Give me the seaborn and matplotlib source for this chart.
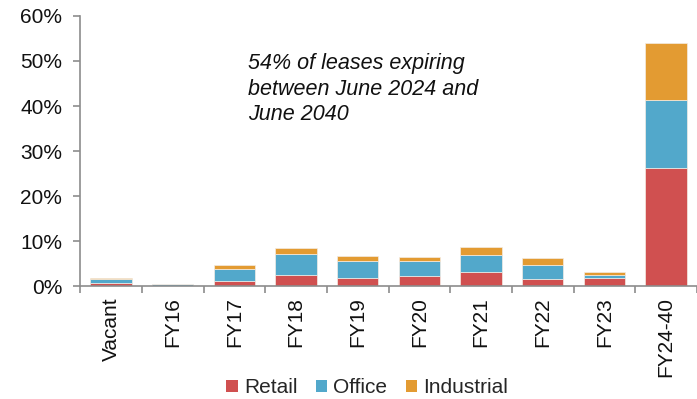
import numpy as np
import pandas as pd
import matplotlib
matplotlib.use("Agg")
import matplotlib.pyplot as plt
import seaborn as sns
from matplotlib.patches import Patch
from matplotlib.ticker import FixedLocator, PercentFormatter

# Lease expiry profile by sector (% of portfolio income)
categories = ["Vacant", "FY16", "FY17", "FY18", "FY19", "FY20", "FY21", "FY22", "FY23", "FY24-40"]
retail = [0.7, 0.05, 1.2, 2.45, 1.85, 2.15, 3.2, 1.5, 1.7, 26.2]
office = [0.9, 0.35, 2.65, 4.75, 3.75, 3.45, 3.75, 3.1, 0.7, 15.1]
industrial = [0.2, 0.0, 0.9, 1.15, 1.1, 0.85, 1.8, 1.7, 0.7, 12.7]

series_names = ["Retail", "Office", "Industrial"]
series_colors = ["#D05050", "#52A8CB", "#E39B32"]

sns.set_theme(style="white")
plt.rcParams["font.family"] = ["Liberation Sans", "DejaVu Sans"]

df = pd.DataFrame({"category": categories, "Retail": retail,
                   "Office": office, "Industrial": industrial})

fig = plt.figure(figsize=(6.97, 3.99), dpi=100)
ax = fig.add_axes([0.115, 0.283, 0.885, 0.677])

bottom = np.zeros(len(categories))
for name, color in zip(series_names, series_colors):
    sns.barplot(data=df, x="category", y=name, color=color, bottom=bottom,
                width=0.67, edgecolor="#F4ECE4", linewidth=0.5,
                saturation=1, ax=ax)
    bottom = bottom + df[name].to_numpy()

ax.set_xlim(-0.5, len(categories) - 0.5)
ax.set_ylim(0, 60)
ax.set_xlabel("")
ax.set_ylabel("")
ax.yaxis.set_major_locator(FixedLocator(np.arange(0, 61, 10)))
ax.yaxis.set_major_formatter(PercentFormatter(decimals=0))

for s in ["top", "right"]:
    ax.spines[s].set_visible(False)
for s in ["left", "bottom"]:
    ax.spines[s].set_color("#8C8C8C")
    ax.spines[s].set_linewidth(1.2)

ax.tick_params(axis="y", which="major", left=True, length=5, width=1.2,
               color="#8C8C8C", labelsize=15, labelcolor="#111111", pad=8)
ax.set_xticks(range(len(categories)))
ax.set_xticklabels(categories, rotation=90, fontsize=15, color="#111111")
ax.tick_params(axis="x", which="major", length=0, pad=8)
ax.set_xticks(np.arange(-0.5, len(categories), 1.0), minor=True)
ax.tick_params(axis="x", which="minor", bottom=True, length=5, width=1.2,
               color="#8C8C8C")

ax.text(0.272, 0.862, "54% of leases expiring\nbetween June 2024 and\nJune 2040",
        transform=ax.transAxes, fontsize=15.5, style="italic", color="#111111",
        ha="left", va="top", linespacing=1.27)

handles = [Patch(facecolor=c, edgecolor="none") for c in series_colors]
fig.legend(handles, series_names, loc="center", bbox_to_anchor=(0.527, 0.028),
           ncol=3, frameon=False, fontsize=15, handlelength=0.55,
           handleheight=0.55, handletextpad=0.3, columnspacing=0.87)

fig.savefig("out.png", dpi=100)
